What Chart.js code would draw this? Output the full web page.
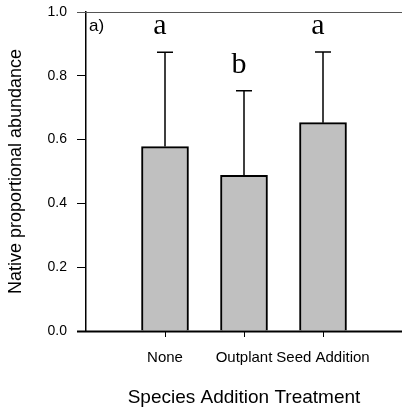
<!DOCTYPE html>
<html>
<head>
<meta charset="utf-8">
<script src="https://cdn.jsdelivr.net/npm/chart.js@4"></script>
<style>
  html, body { margin: 0; padding: 0; background: #fff; overflow: hidden; }
  #wrap { width: 402px; height: 413px; position: relative; }
</style>
</head>
<body>
<div id="wrap"><canvas id="abundanceChart"></canvas></div>
<script>
// values
const categories = ['None', 'Outplant', 'Seed Addition'];
const meanAbundance = [0.578, 0.488, 0.653];
const upperError = [0.296, 0.265, 0.222];
const sigLetters = ['a', 'b', 'a'];
const yTicks = [0, 0.2, 0.4, 0.6, 0.8, 1.0];
const panelLabel = 'a)';

// blank slot on each side so the bars sit at 1, 2, 3 on a 0..4 axis
const axisLabels = [''].concat(categories, ['']);
const barData = [null].concat(meanAbundance, [null]);

const sansFont = "'Liberation Sans', Arial, sans-serif";

// draws the frame lines at 0 and 1, upper error bars, letters and panel label
const annotations = {
    id: 'annotations',
    afterDraw(chart) {
        const ctx = chart.ctx;
        const y = chart.scales.y;
        const area = chart.chartArea;
        const bars = chart.getDatasetMeta(0).data;
        const right = chart.width;
        ctx.save();

        // bottom axis line and top frame line, right across to the edge
        const y0 = Math.round(y.getPixelForValue(0)) + 0.5;
        const y1 = Math.round(y.getPixelForValue(1)) + 0.5;
        ctx.fillStyle = '#000';
        ctx.fillRect(area.left - 9, y0 - 1, right - area.left + 9, 2);
        ctx.fillStyle = '#555';
        ctx.fillRect(area.left - 9, y1 - 0.5, right - area.left + 9, 1);

        ctx.strokeStyle = '#000';
        ctx.lineWidth = 1.5;
        categories.forEach((c, i) => {
            const bar = bars[i + 1];
            if (!bar) return;
            const top = y.getPixelForValue(meanAbundance[i] + upperError[i]);
            ctx.beginPath();
            ctx.moveTo(bar.x, bar.y);
            ctx.lineTo(bar.x, top);
            ctx.moveTo(bar.x - 8, top);
            ctx.lineTo(bar.x + 8, top);
            ctx.stroke();

            ctx.fillStyle = '#000';
            ctx.font = "30px 'Liberation Serif', 'Times New Roman', serif";
            ctx.textAlign = 'center';
            ctx.textBaseline = 'alphabetic';
            ctx.fillText(sigLetters[i], bar.x - 5, top - 18);
        });
        ctx.font = '17px ' + sansFont;
        ctx.textAlign = 'left';
        ctx.textBaseline = 'middle';
        ctx.fillText(panelLabel, area.left + 3, 26);
        ctx.restore();
    }
};

const ctx = document.getElementById('abundanceChart').getContext('2d');
const abundanceChart = new Chart(ctx, {
    type: 'bar',
    data: {
        labels: axisLabels,
        datasets: [{
            data: barData,
            backgroundColor: '#c0c0c0',
            borderColor: '#000',
            borderWidth: 2,
            barThickness: 47
        }]
    },
    options: {
        responsive: true,
        maintainAspectRatio: false,
        animation: false,
        layout: { padding: { top: 12, right: 0, left: 0, bottom: 0 }, autoPadding: false },
        plugins: {
            legend: { display: false },
            tooltip: { enabled: false }
        },
        scales: {
            x: {
                offset: false,
                afterFit: (s) => { s.height = 82; s.paddingLeft = 0; s.paddingRight = 0; },
                border: { display: false },
                grid: {
                    offset: false,
                    drawOnChartArea: false,
                    tickLength: 6,
                    tickColor: (c) => (c.index >= 1 && c.index <= categories.length) ? '#000' : 'rgba(0,0,0,0)'
                },
                ticks: {
                    autoSkip: false,
                    maxRotation: 0,
                    padding: 12,
                    color: '#000',
                    font: { family: sansFont, size: 15 }
                },
                title: {
                    display: true,
                    text: 'Species Addition Treatment',
                    color: '#000',
                    font: { family: sansFont, size: 19 },
                    padding: { top: 0, bottom: 4 }
                }
            },
            y: {
                min: 0,
                max: 1,
                afterFit: (s) => { s.width = 86; s.paddingTop = 0; s.paddingBottom = 0; },
                afterBuildTicks: (s) => { s.ticks = yTicks.map(v => ({ value: v })); },
                border: { display: true, color: '#000', width: 1.5 },
                grid: {
                    drawOnChartArea: false,
                    tickLength: 9,
                    tickColor: '#000'
                },
                ticks: {
                    padding: 10,
                    color: '#000',
                    font: { family: sansFont, size: 14 },
                    callback: (v) => Number(v).toFixed(1)
                },
                title: {
                    display: true,
                    text: 'Native proportional abundance',
                    color: '#000',
                    font: { family: sansFont, size: 18 },
                    padding: { top: 5, bottom: 0 }
                }
            }
        }
    },
    plugins: [annotations]
});
</script>
</body>
</html>
